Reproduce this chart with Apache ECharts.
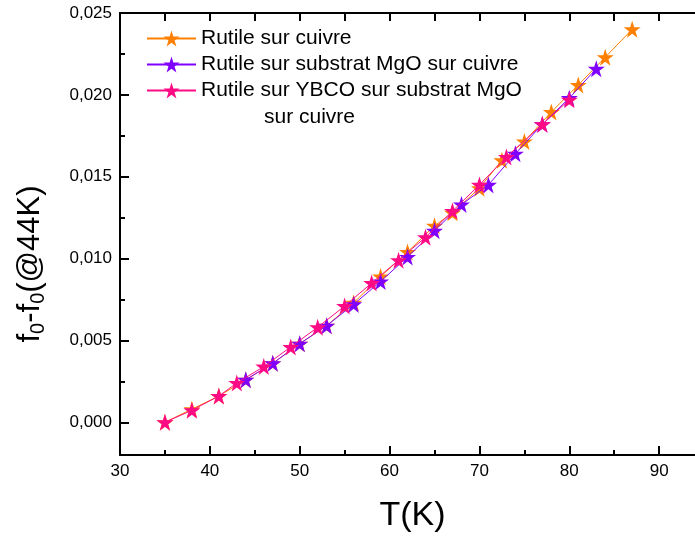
<!DOCTYPE html>
<html>
<head>
<meta charset="utf-8">
<script src="https://cdn.jsdelivr.net/npm/echarts@6/dist/echarts.min.js"></script>
<style>
html,body{margin:0;padding:0;background:#fff;}
#chart{width:695px;height:536px;}
</style>
</head>
<body>
<div id="chart"></div>
<script>
// ---- data ----
var seriesNames = ['Rutile sur cuivre', 'Rutile sur substrat MgO sur cuivre', 'Rutile sur YBCO sur substrat MgO'];
var legendExtraLine = 'sur cuivre';

var orangeT = [35, 38, 41, 44, 47, 50, 53, 56, 59, 62, 65, 67, 70, 72.5, 75, 78, 81, 84, 87];
var orangeF = [0, 0.0008, 0.0016, 0.0026, 0.0036, 0.0048, 0.0059, 0.0073, 0.0089, 0.0104, 0.0120, 0.0128, 0.0143, 0.0160, 0.01715, 0.01895, 0.0206, 0.0223, 0.0240];

var purpleT = [44, 47, 50, 53, 56, 59, 62, 65, 68, 71, 74, 77, 80, 83];
var purpleF = [0.0026, 0.0036, 0.0048, 0.0059, 0.0072, 0.0086, 0.0101, 0.0117, 0.0133, 0.0145, 0.0164, 0.0182, 0.0198, 0.0216];

var pinkT = [35, 38, 41, 43, 46, 49, 52, 55, 58, 61, 64, 67, 70, 73, 77, 80];
var pinkF = [0, 0.00073, 0.0016, 0.0024, 0.0034, 0.0046, 0.0058, 0.0071, 0.0085, 0.0099, 0.0113, 0.0129, 0.0145, 0.0162, 0.0182, 0.0197];

var xTickLabels = [30, 40, 50, 60, 70, 80, 90];
var yTickValues = [0, 0.005, 0.010, 0.015, 0.020, 0.025];
var yTickLabels = ['0,000', '0,005', '0,010', '0,015', '0,020', '0,025'];
var yMinorTickValues = [0.0025, 0.0075, 0.0125, 0.0175, 0.0225];

var colors = ['#FF8000', '#8000FF', '#FF0A85'];

function pairs(xs, ys) { return xs.map(function (x, i) { return [x, ys[i]]; }); }

var star = 'path://M50,0 L61.2,34.5 L97.6,34.5 L68.2,55.9 L79.4,90.5 L50,69.1 L20.6,90.5 L31.8,55.9 L2.4,34.5 L38.8,34.5 Z';
var FONT = '"Liberation Sans", Arial, sans-serif';

var chart = echarts.init(document.getElementById('chart'), null, {renderer: 'canvas'});

function mkSeries(i, data) {
  return {
    name: seriesNames[i], type: 'line', data: data,
    symbol: star, symbolSize: 17, showSymbol: true,
    lineStyle: {color: colors[i], width: 1},
    itemStyle: {color: colors[i]},
    emphasis: {disabled: true}, animation: false, z: 2 + i
  };
}

var option = {
  animation: false,
  backgroundColor: '#fff',
  textStyle: {fontFamily: FONT},
  grid: {left: 120, top: 13, width: 629, height: 442, containLabel: false, outerBoundsMode: 'none'},
  legend: {
    orient: 'vertical', left: 141, top: 23, padding: 5,
    itemWidth: 49, itemHeight: 20, itemGap: 5,
    textStyle: {fontFamily: FONT, fontSize: 21, color: '#000'},
    data: seriesNames
  },
  xAxis: [
    {
      type: 'value', position: 'bottom', min: 30, max: 100, interval: 10,
      axisLine: {show: true, onZero: false, lineStyle: {color: '#000', width: 2}},
      axisTick: {show: true, inside: true, length: 9, lineStyle: {color: '#000', width: 2}},
      minorTick: {show: true, splitNumber: 2, length: 5, lineStyle: {color: '#000', width: 2}},
      splitLine: {show: false},
      axisLabel: {fontFamily: FONT, fontSize: 17, color: '#000', margin: 8,
        formatter: function (v) { return xTickLabels.indexOf(v) >= 0 ? String(v) : ''; }},
      name: 'T(K)', nameLocation: 'middle', nameGap: 44,
      nameTextStyle: {fontFamily: FONT, fontSize: 34, color: '#000', padding: [0, 44, 0, 0]}
    },
    {
      type: 'value', position: 'top', min: 30, max: 100, interval: 5,
      axisLine: {show: true, onZero: false, lineStyle: {color: '#000', width: 2}},
      axisTick: {show: true, inside: true, length: 8, lineStyle: {color: '#000', width: 2}},
      splitLine: {show: false}, axisLabel: {show: false}
    }
  ],
  yAxis: [
    {
      type: 'value', position: 'left', min: -0.002, max: 0.025,
      axisLine: {show: true, onZero: false, lineStyle: {color: '#000', width: 2}},
      axisTick: {show: true, inside: true, length: 9, customValues: yTickValues, lineStyle: {color: '#000', width: 2}},
      splitLine: {show: false},
      axisLabel: {fontFamily: FONT, fontSize: 17, color: '#000', margin: 8, customValues: yTickValues,
        formatter: function (v) {
          var k = Math.round(v / 0.005);
          return yTickLabels[k] || '';
        }},
      name: 'f{s|0}-f{s|0}(@44K)', nameLocation: 'middle', nameGap: 72, nameRotate: 90,
      nameTextStyle: {fontFamily: FONT, fontSize: 31, color: '#000', lineHeight: 36,
        padding: [0, 60, 0, 0],
        rich: {s: {fontFamily: FONT, fontSize: 20, lineHeight: 20, verticalAlign: 'bottom', color: '#000'}}}
    },
    {
      type: 'value', position: 'left', min: -0.002, max: 0.025,
      axisLine: {show: false}, splitLine: {show: false}, axisLabel: {show: false},
      axisTick: {show: true, inside: true, length: 5, customValues: yMinorTickValues, lineStyle: {color: '#000', width: 2}}
    }
  ],
  graphic: [{
    type: 'text', left: 264, top: 107, silent: true,
    style: {text: legendExtraLine, font: '21px ' + FONT, fill: '#000'}
  }],
  series: [
    mkSeries(0, pairs(orangeT, orangeF)),
    mkSeries(1, pairs(purpleT, purpleF)),
    mkSeries(2, pairs(pinkT, pinkF))
  ]
};
chart.setOption(option);
</script>
</body>
</html>
